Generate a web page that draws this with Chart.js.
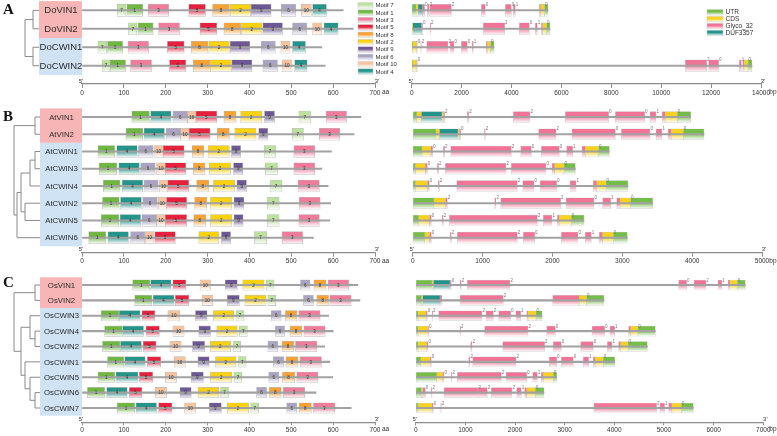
<!DOCTYPE html>
<html>
<head>
<meta charset="utf-8">
<title>Motifs and gene structures of VIN / CWIN genes</title>
<script src="https://cdn.jsdelivr.net/npm/chart.js@4.4.1/dist/chart.umd.min.js"></script>
<style>
  html, body { margin: 0; padding: 0; background: #fff; }
  body { width: 777px; height: 436px; position: relative; overflow: hidden; }
  canvas { position: absolute; }
</style>
</head>
<body>
<canvas id="motifA"></canvas><canvas id="geneA"></canvas>
<canvas id="motifB"></canvas><canvas id="geneB"></canvas>
<canvas id="motifC"></canvas><canvas id="geneC"></canvas>
<script>
// ---------- panel A (Do) ----------
const doNames = ['DoVIN1', 'DoVIN2', 'DoCWIN1', 'DoCWIN2'];
const doProtLen = [624, 648, 573, 581];
// [motif, start aa, end aa]
const doMotifs = [
  [[7,84,105],[1,107,145],[3,158,207],[5,255,295],[8,312,352],[2,354,403],[9,404,452],[6,476,511],[10,524,548],[4,551,584]],
  [[7,111,131],[1,134,170],[3,183,233],[5,282,322],[8,339,379],[2,381,430],[9,432,479],[6,503,537],[10,551,573],[4,578,612]],
  [[7,38,59],[1,61,97],[3,110,159],[5,204,244],[8,261,301],[2,303,352],[9,354,401],[6,428,462],[10,475,497],[4,503,534]],
  [[7,48,67],[1,67,104],[3,116,166],[5,209,248],[8,266,306],[2,307,357],[9,358,406],[6,432,467],[10,478,502],[4,508,538]]
];
const doGeneLen = [5464, 5544, 3300, 13640];
// [start bp, end bp, U=UTR C=CDS G=Glyco_32 D=DUF3357]
const doExons = [
  [[0,174,'U'],[174,254,'C'],[254,441,'D'],[441,521,'G'],[628,708,'G'],[735,1590,'G'],[2792,2952,'G'],[3754,3995,'G'],[4075,4155,'G'],[5117,5170,'G'],[5170,5330,'C'],[5330,5464,'U']],
  [[0,40,'C'],[40,401,'D'],[401,440,'G'],[735,762,'G'],[2872,3727,'G'],[4315,4716,'G'],[4956,5036,'G'],[5197,5250,'G'],[5250,5411,'C'],[5411,5544,'U']],
  [[0,40,'U'],[40,200,'C'],[200,227,'G'],[361,387,'G'],[601,1456,'G'],[1536,1697,'G'],[1991,2231,'G'],[2418,2472,'G'],[2979,3033,'G'],[3033,3166,'C'],[3166,3300,'U']],
  [[0,30,'U'],[30,200,'C'],[200,227,'G'],[10968,11823,'G'],[11903,12304,'G'],[13133,13213,'G'],[13267,13320,'G'],[13320,13480,'C'],[13480,13640,'U']]
];
// [bp, intron phase]
const doPhases = [
  [[521,0],[708,2],[1590,2],[2952,0],[3995,0],[4155,1],[5330,0]],
  [[440,0],[762,2],[3727,2],[4716,0],[5036,1],[5411,0]],
  [[227,0],[387,2],[1456,2],[1697,0],[2231,0],[2472,1],[3166,0]],
  [[227,0],[11823,2],[12304,0],[13213,1],[13480,0]]
];
const doTree = {x: 25, c: [{x: 33, c: [0, 1]}, {x: 33, c: [2, 3]}]};

// ---------- panel B (At) ----------
const atNames = ['AtVIN1', 'AtVIN2', 'AtCWIN1', 'AtCWIN3', 'AtCWIN4', 'AtCWIN2', 'AtCWIN5', 'AtCWIN6'];
const atProtLen = [666, 650, 596, 573, 588, 594, 592, 553];
const atMotifs = [
  [[1,119,161],[4,164,213],[6,217,252],[10,252,272],[5,272,322],[8,339,368],[2,379,430],[9,436,460],[7,518,546],[3,583,632]],
  [[1,105,145],[4,148,197],[6,201,236],[10,236,256],[5,256,306],[8,323,352],[2,365,416],[9,422,444],[7,502,529],[3,567,616]],
  [[1,38,78],[4,83,132],[6,135,170],[10,172,194],[5,194,244],[8,263,291],[2,301,352],[9,357,379],[7,435,463],[3,506,556]],
  [[1,41,83],[4,88,137],[6,140,175],[10,178,199],[5,199,248],[8,266,294],[2,304,355],[9,362,384],[7,438,467],[3,506,556]],
  [[1,51,91],[4,96,145],[6,148,182],[10,185,205],[5,205,255],[8,274,303],[2,314,365],[9,370,393],[7,449,478],[3,516,567]],
  [[1,49,89],[4,92,142],[6,145,180],[10,182,202],[5,202,250],[8,269,298],[2,307,358],[9,363,387],[7,443,471],[3,519,569]],
  [[1,46,88],[4,91,140],[6,143,178],[10,178,199],[5,199,250],[8,267,296],[2,307,358],[9,363,385],[7,443,471],[3,518,567]],
  [[1,16,57],[4,62,111],[6,116,150],[10,151,172],[5,174,223],[2,279,327],[9,333,355],[7,412,441],[3,478,527]]
];
const atGeneLen = [3979, 4170, 2815, 2328, 3082, 3435, 2452, 3072];
const atExons = [
  [[0,57,'U'],[57,124,'C'],[124,420,'D'],[420,440,'C'],[440,458,'G'],[782,802,'G'],[1441,1679,'G'],[2185,2805,'G'],[2901,3321,'G'],[3397,3483,'G'],[3569,3616,'G'],[3616,3788,'C'],[3788,3979,'U']],
  [[0,334,'U'],[334,382,'C'],[382,649,'D'],[649,668,'C'],[668,687,'G'],[1026,1040,'G'],[1803,2052,'G'],[2281,2901,'G'],[2987,3397,'G'],[3483,3569,'G'],[3655,3702,'G'],[3702,3874,'C'],[3874,4170,'U']],
  [[0,134,'U'],[134,258,'C'],[258,286,'G'],[439,458,'G'],[544,1412,'G'],[1546,1699,'G'],[1842,2099,'G'],[2204,2290,'G'],[2424,2471,'G'],[2471,2662,'C'],[2662,2815,'U']],
  [[0,38,'U'],[38,181,'C'],[181,210,'G'],[353,372,'G'],[468,1336,'G'],[1412,1908,'G'],[1994,2032,'G'],[2032,2166,'C'],[2166,2328,'U']],
  [[0,38,'U'],[38,210,'C'],[210,238,'G'],[363,382,'G'],[630,1498,'G'],[1575,1737,'G'],[1823,2061,'G'],[2252,2338,'G'],[2586,2634,'G'],[2634,2767,'C'],[2767,3082,'U']],
  [[0,305,'U'],[305,468,'C'],[468,496,'G'],[1174,1193,'G'],[1260,2118,'G'],[2195,2595,'G'],[2719,2834,'G'],[2920,2968,'G'],[2968,3120,'C'],[3120,3435,'U']],
  [[0,86,'U'],[86,239,'C'],[239,267,'G'],[420,439,'G'],[525,1784,'G'],[1870,1994,'G'],[2071,2099,'G'],[2099,2271,'C'],[2271,2452,'U']],
  [[0,172,'U'],[172,239,'C'],[239,267,'G'],[534,553,'G'],[639,1498,'G'],[1584,1746,'G'],[2128,2366,'G'],[2471,2557,'G'],[2672,2719,'G'],[2719,2872,'C'],[2872,3072,'U']]
];
const atPhases = [
  [[458,2],[802,2],[1679,2],[2805,0],[3321,0],[3483,1],[3788,0]],
  [[687,0],[1040,2],[2052,2],[2901,0],[3397,0],[3569,1],[3874,0]],
  [[286,0],[458,2],[1412,2],[1699,0],[2099,0],[2290,1],[2662,0]],
  [[210,0],[372,2],[1336,2],[1908,0],[2166,0]],
  [[238,0],[382,2],[1498,2],[1737,0],[2061,0],[2338,1],[2767,0]],
  [[496,2],[1193,2],[2118,2],[2595,0],[2834,1],[3120,0]],
  [[267,0],[439,2],[1784,2],[1994,1],[2271,0]],
  [[267,0],[553,2],[1498,2],[1746,0],[2366,0],[2557,1],[2872,0]]
];
const atTree = {x: 14, c: [
  {x: 35, c: [0, 1]},
  {x: 17, c: [
    {x: 21, c: [{x: 30, c: [{x: 35, c: [2, 3]}, 4]}, {x: 25, c: [5, 6]}]},
    7
  ]}
]};

// ---------- panel C (Os) ----------
const osNames = ['OsVIN1', 'OsVIN2', 'OsCWIN3', 'OsCWIN4', 'OsCWIN2', 'OsCWIN1', 'OsCWIN5', 'OsCWIN6', 'OsCWIN7'];
const osProtLen = [659, 664, 589, 600, 580, 592, 599, 559, 643];
const osMotifs = [
  [[1,121,162],[4,164,213],[5,217,248],[10,282,307],[9,342,371],[2,384,435],[7,440,459],[6,522,545],[8,554,583],[3,588,637]],
  [[1,126,167],[4,170,220],[5,223,255],[10,287,312],[9,347,376],[2,389,440],[7,444,463],[6,529,553],[8,561,589],[3,592,643]],
  [[1,46,88],[4,89,139],[5,143,174],[10,205,234],[9,271,299],[2,314,363],[7,368,387],[6,452,476],[8,486,513],[3,518,569]],
  [[1,54,96],[4,97,147],[5,153,185],[10,217,244],[9,279,307],[2,322,371],[7,376,395],[6,462,484],[8,497,525],[3,530,581]],
  [[1,49,91],[4,92,142],[5,146,177],[10,210,237],[9,264,293],[2,306,355],[7,362,379],[6,444,468],[8,478,506],[3,510,561]],
  [[1,61,100],[4,102,151],[5,156,188],[10,220,247],[9,277,304],[2,319,368],[7,374,392],[6,457,482],[8,487,516],[3,521,572]],
  [[1,38,78],[4,81,134],[5,137,169],[10,199,226],[9,261,290],[2,307,358],[7,363,382],[6,446,470],[8,479,508],[3,513,564]],
  [[1,13,54],[4,59,108],[5,113,143],[10,175,202],[9,234,261],[2,277,327],[7,331,350],[6,417,441],[8,447,476],[3,481,532]],
  [[1,84,126],[4,129,178],[5,183,215],[10,245,272],[9,304,333],[2,347,398],[7,403,422],[6,489,513],[8,519,548],[3,553,604]]
];
const osGeneLen = [6637, 3792, 2544, 4825, 4664, 4007, 2839, 2584, 5590];
const osExons = [
  [[0,329,'U'],[329,356,'C'],[356,691,'D'],[691,718,'G'],[893,919,'G'],[1040,1899,'G'],[5295,5456,'G'],[5604,5845,'G'],[6087,6167,'G'],[6288,6328,'G'],[6328,6476,'C'],[6476,6637,'U']],
  [[0,114,'U'],[114,141,'C'],[141,490,'D'],[490,530,'G'],[893,1765,'G'],[2758,3295,'G'],[3295,3443,'C'],[3443,3792,'U']],
  [[0,47,'U'],[47,208,'C'],[208,235,'G'],[329,342,'G'],[463,1336,'G'],[1416,1564,'G'],[1671,1913,'G'],[2020,2114,'G'],[2235,2262,'G'],[2262,2423,'C'],[2423,2544,'U']],
  [[0,47,'U'],[47,248,'C'],[248,262,'G'],[893,906,'G'],[1389,2262,'G'],[2637,2812,'G'],[3550,3805,'G'],[3913,4007,'G'],[4288,4329,'G'],[4329,4476,'C'],[4476,4825,'U']],
  [[0,47,'U'],[47,221,'C'],[221,248,'G'],[1107,1134,'G'],[1752,2597,'G'],[2772,2933,'G'],[3322,3577,'G'],[3859,3953,'G'],[4087,4127,'G'],[4127,4275,'C'],[4275,4664,'U']],
  [[0,101,'U'],[101,289,'C'],[289,315,'G'],[1067,1094,'G'],[1147,2020,'G'],[2691,2839,'G'],[2933,3174,'G'],[3376,3483,'G'],[3577,3617,'G'],[3617,3778,'C'],[3778,4007,'U']],
  [[0,423,'U'],[423,544,'C'],[544,570,'G'],[718,731,'G'],[839,1725,'G'],[1819,2235,'G'],[2356,2450,'G'],[2530,2570,'G'],[2570,2772,'C'],[2772,2839,'U']],
  [[0,114,'U'],[114,141,'C'],[141,195,'G'],[315,329,'G'],[570,1255,'G'],[1255,1443,'G'],[1523,1939,'G'],[2033,2127,'G'],[2194,2235,'G'],[2235,2409,'C'],[2409,2584,'U']],
  [[0,47,'U'],[47,329,'C'],[329,356,'G'],[503,517,'G'],[3590,4852,'G'],[4919,5013,'G'],[5094,5161,'G'],[5161,5349,'C'],[5349,5590,'U']]
];
const osPhases = [
  [[718,0],[919,2],[1899,2],[5456,0],[5845,2],[6167,1],[6476,0]],
  [[1765,2],[3443,0]],
  [[235,0],[342,2],[1336,2],[1564,2],[1913,0],[2114,1],[2423,0]],
  [[262,0],[906,2],[2262,2],[2812,0],[3805,0],[4007,1],[4476,0]],
  [[248,0],[1134,2],[2597,2],[2933,0],[3577,0],[3953,1],[4275,0]],
  [[315,0],[1094,2],[2020,2],[2839,0],[3174,0],[3483,1],[3778,0]],
  [[570,0],[731,2],[1725,2],[2235,0],[2450,1],[2772,0]],
  [[195,0],[329,2],[1255,2],[1443,2],[1939,2],[2127,1],[2409,0]],
  [[356,0],[517,2],[4852,2],[5013,1],[5349,0]]
];
const osTree = {x: 14, c: [
  {x: 35, c: [0, 1]},
  {x: 21, c: [
    {x: 30, c: [2, {x: 35, c: [3, 4]}]},
    {x: 25, c: [5, {x: 30, c: [6, {x: 35, c: [7, 8]}]}]}
  ]}
]};

// ---------- shared styling ----------
const motifOrder = [7, 1, 3, 5, 8, 2, 9, 6, 10, 4];
const motifColors = {7: '#bde2a0', 1: '#70b742', 3: '#f07c9c', 5: '#e6203d', 8: '#f7a233',
                     2: '#f8d10f', 9: '#6d5795', 6: '#aaa3c2', 10: '#f8c49f', 4: '#24958a'};
const exonOrder = ['U', 'C', 'G', 'D'];
const exonColors = {U: '#74bd48', C: '#f8d21c', G: '#f17496', D: '#23948c'};
const exonLabels = {U: 'UTR', C: 'CDS', G: 'Glyco_32', D: 'DUF3357'};

const FONT = '"Liberation Sans", Arial, sans-serif';
Chart.defaults.font.family = FONT;

// canvas geometry of each panel (px)
const layout = {
  A: {top: 0, height: 100, axisH: 16, padTop: 1.1, yMax: 3.99, tick: 4, thick: 12, gThick: 12,
      nameSize: 9.5, letterY: 10, leafX: 39, gLeft: 16.7, gRight: 16},
  B: {top: 100, height: 169, axisH: 16.3, padTop: 8.4, yMax: 7.87, tick: 4, thick: 12, gThick: 11,
      nameSize: 7.8, letterY: 17, leafX: 40, gLeft: 17.7, gRight: 15},
  C: {top: 270, height: 166, axisH: 13.7, padTop: 7.3, yMax: 8.93, tick: 3, thick: 10.5, gThick: 10,
      nameSize: 7.8, letterY: 13, leafX: 40, gLeft: 20.7, gRight: 13.7}
};

function fade(ctx, color, top, h) {
  const g = ctx.createLinearGradient(0, top, 0, top + h);
  g.addColorStop(0, color);
  g.addColorStop(0.42, color);
  g.addColorStop(1, '#fdfdfd');
  return g;
}

// scriptable fill: colour on top, white at the bottom of each box
function barFill(color, thick) {
  return (c) => {
    const ys = c.chart.scales && c.chart.scales.y;
    if (!c.raw || !ys || !c.chart.chartArea) return color;
    const yc = ys.getPixelForValue(c.raw.y);
    if (!Number.isFinite(yc)) return color;
    return fade(c.chart.ctx, color, yc - thick / 2, thick);
  };
}

function backbone(lengths) {
  return {
    data: lengths.map((len, i) => ({x: [0, len], y: i})),
    backgroundColor: '#a2a2a2', borderWidth: 0,
    barThickness: 1.4, maxBarThickness: 1.4, grouped: false
  };
}

function xAxis(max, step, L) {
  return {
    type: 'linear', position: 'bottom', min: 0, max: max,
    ticks: {stepSize: step, autoSkip: false, maxRotation: 0, padding: 1, color: '#333', font: {size: 6.5},
            callback: (v) => String(v)},
    grid: {drawOnChartArea: false, drawTicks: true, tickLength: L.tick, color: '#8c8c8c', lineWidth: 1},
    border: {display: true, color: '#8c8c8c', width: 1.2},
    afterFit: (s) => { s.height = L.axisH; }
  };
}

// hidden row axis (no bar offset); two ticks so the bar ruler follows the row spacing
function yAxis(L) {
  return {type: 'linear', reverse: true, offset: false, min: -0.5, max: L.yMax, display: false,
          ticks: {count: 2}};
}

function line(ctx, x1, y1, x2, y2) {
  ctx.beginPath();
  ctx.moveTo(x1, y1);
  ctx.lineTo(x2, y2);
  ctx.stroke();
}

// draws the dendrogram, returns the y of the node
function drawTree(ctx, node, ys, leafX) {
  if (typeof node === 'number') return ys.getPixelForValue(node);
  const cy = node.c.map(ch => {
    const y = drawTree(ctx, ch, ys, leafX);
    line(ctx, node.x, y, typeof ch === 'number' ? leafX : ch.x, y);
    return y;
  });
  const lo = Math.min(...cy), hi = Math.max(...cy);
  line(ctx, node.x, lo, node.x, hi);
  return (lo + hi) / 2;
}

function axisEnds(chart, unit, L) {
  const ctx = chart.ctx, a = chart.chartArea, xs = chart.scales.x;
  ctx.save();
  ctx.fillStyle = '#333';
  ctx.font = '6px ' + FONT;
  ctx.textAlign = 'center';
  ctx.textBaseline = 'alphabetic';
  ctx.fillText("5'", a.left - 1, a.bottom - 1.5);
  ctx.fillText("3'", a.right + 2, a.bottom - 1.5);
  ctx.font = '6.5px ' + FONT;
  const w = ctx.measureText(String(xs.max)).width;
  const uw = ctx.measureText(unit).width;
  const ux = Math.min(a.right + w / 2 + 1.5, chart.width - uw - 0.5);
  ctx.textAlign = 'left';
  ctx.textBaseline = 'top';
  ctx.fillText(unit, ux, a.bottom + L.tick + 1);
  ctx.restore();
}

function legendRows(ctx, keys, colors, labels, x, y0, step, w, fs) {
  ctx.save();
  ctx.font = fs + 'px ' + FONT;
  ctx.textAlign = 'left';
  ctx.textBaseline = 'middle';
  keys.forEach((k, i) => {
    const y = y0 + i * step, h = 5.6;
    ctx.fillStyle = fade(ctx, colors[k], y - h / 2, h);
    ctx.fillRect(x, y - h / 2, w, h);
    ctx.strokeStyle = '#cfcfcf';
    ctx.lineWidth = 0.5;
    ctx.strokeRect(x, y - h / 2, w, h);
    ctx.fillStyle = '#333';
    ctx.fillText(labels(k), x + w + 2.5, y + 0.3);
  });
  ctx.restore();
}

function makeMotifChart(id, key, names, protLen, motifs, tree, withLegend) {
  const L = layout[key];
  const cv = document.getElementById(id);
  cv.width = 400; cv.height = L.height;
  cv.style.left = '0px'; cv.style.top = L.top + 'px';

  const datasets = [backbone(protLen)];
  motifOrder.forEach(m => {
    datasets.push({
      label: 'Motif ' + m, motif: m,
      data: motifs.flatMap((g, i) => g.filter(r => r[0] === m).map(r => ({x: [r[1], r[2]], y: i}))),
      backgroundColor: barFill(motifColors[m], L.thick),
      borderColor: 'rgba(165,165,165,0.75)', borderWidth: 0.6, borderSkipped: false,
      barThickness: L.thick, maxBarThickness: L.thick, grouped: false
    });
  });

  const decor = {
    id: 'motifDecor',
    beforeDatasetsDraw(chart) {
      const ctx = chart.ctx, ys = chart.scales.y, a = chart.chartArea;
      const sp = ys.getPixelForValue(1) - ys.getPixelForValue(0);
      const nV = names.filter(n => !n.includes('CWIN')).length;
      const y0 = ys.getPixelForValue(0) - sp / 2;
      const yV = ys.getPixelForValue(nV - 1) + sp / 2;
      const yE = ys.getPixelForValue(names.length - 1) + sp / 2;
      ctx.save();
      ctx.fillStyle = '#f8b5b5';
      ctx.fillRect(L.leafX, y0, a.left - L.leafX, yV - y0);
      ctx.fillStyle = '#cfe3f5';
      ctx.fillRect(L.leafX, yV, a.left - L.leafX, yE - yV);
      ctx.fillStyle = '#2b2b2b';
      ctx.font = L.nameSize + 'px ' + FONT;
      ctx.textAlign = 'center';
      ctx.textBaseline = 'middle';
      names.forEach((n, i) => ctx.fillText(n, (L.leafX + a.left) / 2 + 0.5, ys.getPixelForValue(i) + 0.5));
      ctx.strokeStyle = '#8a8a8a';
      ctx.lineWidth = 1;
      drawTree(ctx, tree, ys, L.leafX);
      ctx.fillStyle = '#111';
      ctx.font = 'bold 15px "Liberation Serif", "Times New Roman", serif';
      ctx.textAlign = 'left';
      ctx.fillText(key, 3, L.letterY);
      ctx.restore();
    },
    afterDatasetsDraw(chart) {
      const ctx = chart.ctx;
      ctx.save();
      ctx.fillStyle = '#333';
      ctx.font = '4.5px ' + FONT;
      ctx.textAlign = 'center';
      ctx.textBaseline = 'middle';
      chart.data.datasets.forEach((ds, di) => {
        if (!ds.motif) return;
        chart.getDatasetMeta(di).data.forEach(el => {
          const p = el.getProps(['x', 'base', 'y'], true);
          ctx.fillText(String(ds.motif), (p.x + p.base) / 2, p.y + 0.5);
        });
      });
      ctx.restore();
      axisEnds(chart, 'aa', L);
      if (withLegend) legendRows(ctx, motifOrder, motifColors, k => 'Motif ' + k, 358, 5.3, 7.37, 15, 6);
    }
  };

  return new Chart(cv, {
    type: 'bar',
    data: {datasets},
    options: {
      indexAxis: 'y', responsive: false, animation: false, devicePixelRatio: 1, events: [],
      layout: {padding: {left: 82, right: 25, top: L.padTop, bottom: 0}},
      scales: {x: xAxis(700, 100, L), y: yAxis(L)},
      plugins: {legend: {display: false}, tooltip: {enabled: false}}
    },
    plugins: [decor]
  });
}

function makeGeneChart(id, key, geneLen, exons, phases, maxBp, step, withLegend) {
  const L = layout[key];
  const cv = document.getElementById(id);
  cv.width = 382; cv.height = L.height;
  cv.style.left = '395px'; cv.style.top = L.top + 'px';

  const datasets = [backbone(geneLen)];
  exonOrder.forEach(t => {
    datasets.push({
      label: exonLabels[t],
      data: exons.flatMap((g, i) => g.filter(s => s[2] === t).map(s => ({x: [s[0], s[1]], y: i}))),
      backgroundColor: barFill(exonColors[t], L.gThick),
      borderColor: 'rgba(170,170,170,0.55)', borderWidth: 0.5, borderSkipped: false,
      barThickness: L.gThick, maxBarThickness: L.gThick, grouped: false
    });
  });

  const decor = {
    id: 'geneDecor',
    afterDatasetsDraw(chart) {
      const ctx = chart.ctx, ys = chart.scales.y, xs = chart.scales.x;
      ctx.save();
      ctx.fillStyle = '#7a7a7a';
      ctx.font = '4.5px ' + FONT;
      ctx.textAlign = 'left';
      ctx.textBaseline = 'bottom';
      phases.forEach((list, i) => {
        const yt = ys.getPixelForValue(i) - L.gThick / 2 + 2.6;
        list.forEach(([pos, ph]) => ctx.fillText(String(ph), xs.getPixelForValue(pos) + 0.4, yt));
      });
      ctx.restore();
      axisEnds(chart, 'bp', L);
      if (withLegend) legendRows(ctx, exonOrder, exonColors, k => exonLabels[k], 707 - 395, 12.3, 6.9, 16, 6.5);
    }
  };

  return new Chart(cv, {
    type: 'bar',
    data: {datasets},
    options: {
      indexAxis: 'y', responsive: false, animation: false, devicePixelRatio: 1, events: [],
      layout: {padding: {left: L.gLeft, right: L.gRight, top: L.padTop, bottom: 0}},
      scales: {x: xAxis(maxBp, step, L), y: yAxis(L)},
      plugins: {legend: {display: false}, tooltip: {enabled: false}}
    },
    plugins: [decor]
  });
}

makeMotifChart('motifA', 'A', doNames, doProtLen, doMotifs, doTree, true);
makeGeneChart('geneA', 'A', doGeneLen, doExons, doPhases, 14000, 2000, true);
makeMotifChart('motifB', 'B', atNames, atProtLen, atMotifs, atTree, false);
makeGeneChart('geneB', 'B', atGeneLen, atExons, atPhases, 5000, 1000, false);
makeMotifChart('motifC', 'C', osNames, osProtLen, osMotifs, osTree, false);
makeGeneChart('geneC', 'C', osGeneLen, osExons, osPhases, 7000, 1000, false);
</script>
</body>
</html>
